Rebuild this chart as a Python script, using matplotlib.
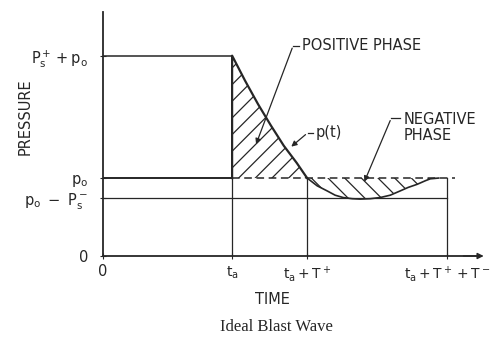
import matplotlib
matplotlib.use('Agg')
import matplotlib.pyplot as plt

plt.rcParams['font.family'] = ['DejaVu Sans']
plt.rcParams['mathtext.fontset'] = 'dejavusans'
plt.rcParams['hatch.linewidth'] = 0.9

# pressure levels (p0 = 1)
p0 = 1.0
p_peak = 2.57
p_neg = 0.74
p_top = 3.13

# times (t_a = 1)
t_a = 1.0
T_pos = 0.581
T_neg = 1.086
t_max = 2.92
t_dash_end = 2.73

# positive phase p(t)
t_pos = [1.0, 1.1, 1.2, 1.3, 1.4, 1.5, 1.581]
p_pos = [2.57, 2.25, 1.95, 1.675, 1.415, 1.195, 1.0]
# negative phase p(t)
t_neg = [1.581, 1.659, 1.736, 1.798, 1.860, 1.930, 1.992, 2.070, 2.147,
         2.225, 2.302, 2.364, 2.434, 2.496, 2.535, 2.60]
p_neg_curve = [1.0, 0.90, 0.835, 0.78, 0.75, 0.735, 0.73, 0.735, 0.75,
               0.78, 0.835, 0.88, 0.92, 0.965, 0.99, 1.0]

xtick_pos = [0, t_a, t_a + T_pos, t_a + T_pos + T_neg]
xtick_lab = ['0', r'$\mathrm{t_a}$', r'$\mathrm{t_a + T^+}$', r'$\mathrm{t_a + T^+ + T^-}$']
ytick_pos = [0, p_neg, p0, p_peak]
ytick_lab = ['0', r'$\mathrm{p_o\ -\ P_s^-}$', r'$\mathrm{p_o}$', r'$\mathrm{P_s^+ + p_o}$']

ink = '#262626'
W, H = 491, 337
fig = plt.figure(figsize=(W / 100, H / 100), dpi=100)
ax = fig.add_axes([103 / W, 81 / H, (480 - 103) / W, (256 - 12) / H])
ax.set_xlim(0, t_max)
ax.set_ylim(0, p_top)
for s in ['top', 'right']:
    ax.spines[s].set_visible(False)
for s in ['left', 'bottom']:
    ax.spines[s].set_linewidth(1.3)
    ax.spines[s].set_color(ink)

# arrow on time axis
ax.annotate('', xy=(t_max + 0.05, 0), xytext=(t_max - 0.15, 0),
            arrowprops=dict(arrowstyle='-|>', color=ink, lw=1.0, mutation_scale=9),
            annotation_clip=False)

# hatched phases
ax.fill_between(t_pos, p_pos, p0, hatch='//', facecolor='none', edgecolor=ink, linewidth=0)
ax.fill_between(t_neg, p_neg_curve, p0, hatch='\\\\', facecolor='none', edgecolor=ink, linewidth=0)

# reference lines
ax.plot([0, t_a], [p_peak, p_peak], color=ink, lw=1.1)
ax.plot([0, t_a], [p0, p0], color=ink, lw=1.4)
ax.plot([t_a, t_dash_end], [p0, p0], color=ink, lw=1.1, ls=(0, (5, 3)))
ax.plot([0, t_a + T_pos + T_neg], [p_neg, p_neg], color=ink, lw=0.9)
ax.plot([t_a, t_a], [0, p0], color=ink, lw=0.9)
ax.plot([t_a + T_pos, t_a + T_pos], [0, p0], color=ink, lw=0.9)
ax.plot([t_a + T_pos + T_neg] * 2, [0, p0], color=ink, lw=0.9)

# the pressure history
ax.plot([t_a, t_a] + t_pos, [p0, p_peak] + p_pos, color=ink, lw=1.6)
ax.plot(t_neg, p_neg_curve, color=ink, lw=1.2)

ax.set_xticks(xtick_pos)
ax.set_xticklabels(xtick_lab, fontsize=10)
ax.get_xticklabels()[0].set_fontsize(10.5)
ax.set_yticks(ytick_pos)
ax.set_yticklabels(ytick_lab, fontsize=10.5)
ax.tick_params(axis='x', length=4, direction='inout', pad=4, colors=ink)
ax.tick_params(axis='y', length=5, direction='inout', pad=8, colors=ink)

fig.text(25 / W, 1 - 117 / H, 'PRESSURE', rotation=90, ha='center', va='center',
         fontsize=10.5, color=ink)
fig.text(272 / W, 1 - 299 / H, 'TIME', ha='center', va='center', fontsize=10.5, color=ink)
fig.text(276 / W, 1 - 327 / H, 'Ideal Blast Wave', ha='center', va='center',
         fontsize=12, color=ink, family=['Liberation Serif', 'DejaVu Serif'])

# phase labels with leaders
ax.text(1.543, 2.70, 'POSITIVE PHASE', ha='left', va='center', fontsize=10.5, color=ink)
ax.plot([1.520, 1.473], [2.70, 2.70], color=ink, lw=0.9)
ax.annotate('', xy=(1.178, 1.40), xytext=(1.473, 2.70),
            arrowprops=dict(arrowstyle='-|>', color=ink, lw=0.9, mutation_scale=8))

ax.text(1.643, 1.58, 'p(t)', ha='left', va='center', fontsize=10.5, color=ink)
ax.plot([1.625, 1.585], [1.58, 1.58], color=ink, lw=0.9)
ax.annotate('', xy=(1.442, 1.38), xytext=(1.585, 1.58),
            arrowprops=dict(arrowstyle='-|>', color=ink, lw=0.9, mutation_scale=8))

ax.text(2.326, 1.65, 'NEGATIVE\nPHASE', ha='left', va='center', fontsize=10.5,
        color=ink, linespacing=1.1)
ax.plot([2.30, 2.233], [1.77, 1.77], color=ink, lw=0.9)
ax.annotate('', xy=(2.016, 0.92), xytext=(2.233, 1.77),
            arrowprops=dict(arrowstyle='-|>', color=ink, lw=0.9, mutation_scale=8))

fig.savefig('out.png', dpi=100)
